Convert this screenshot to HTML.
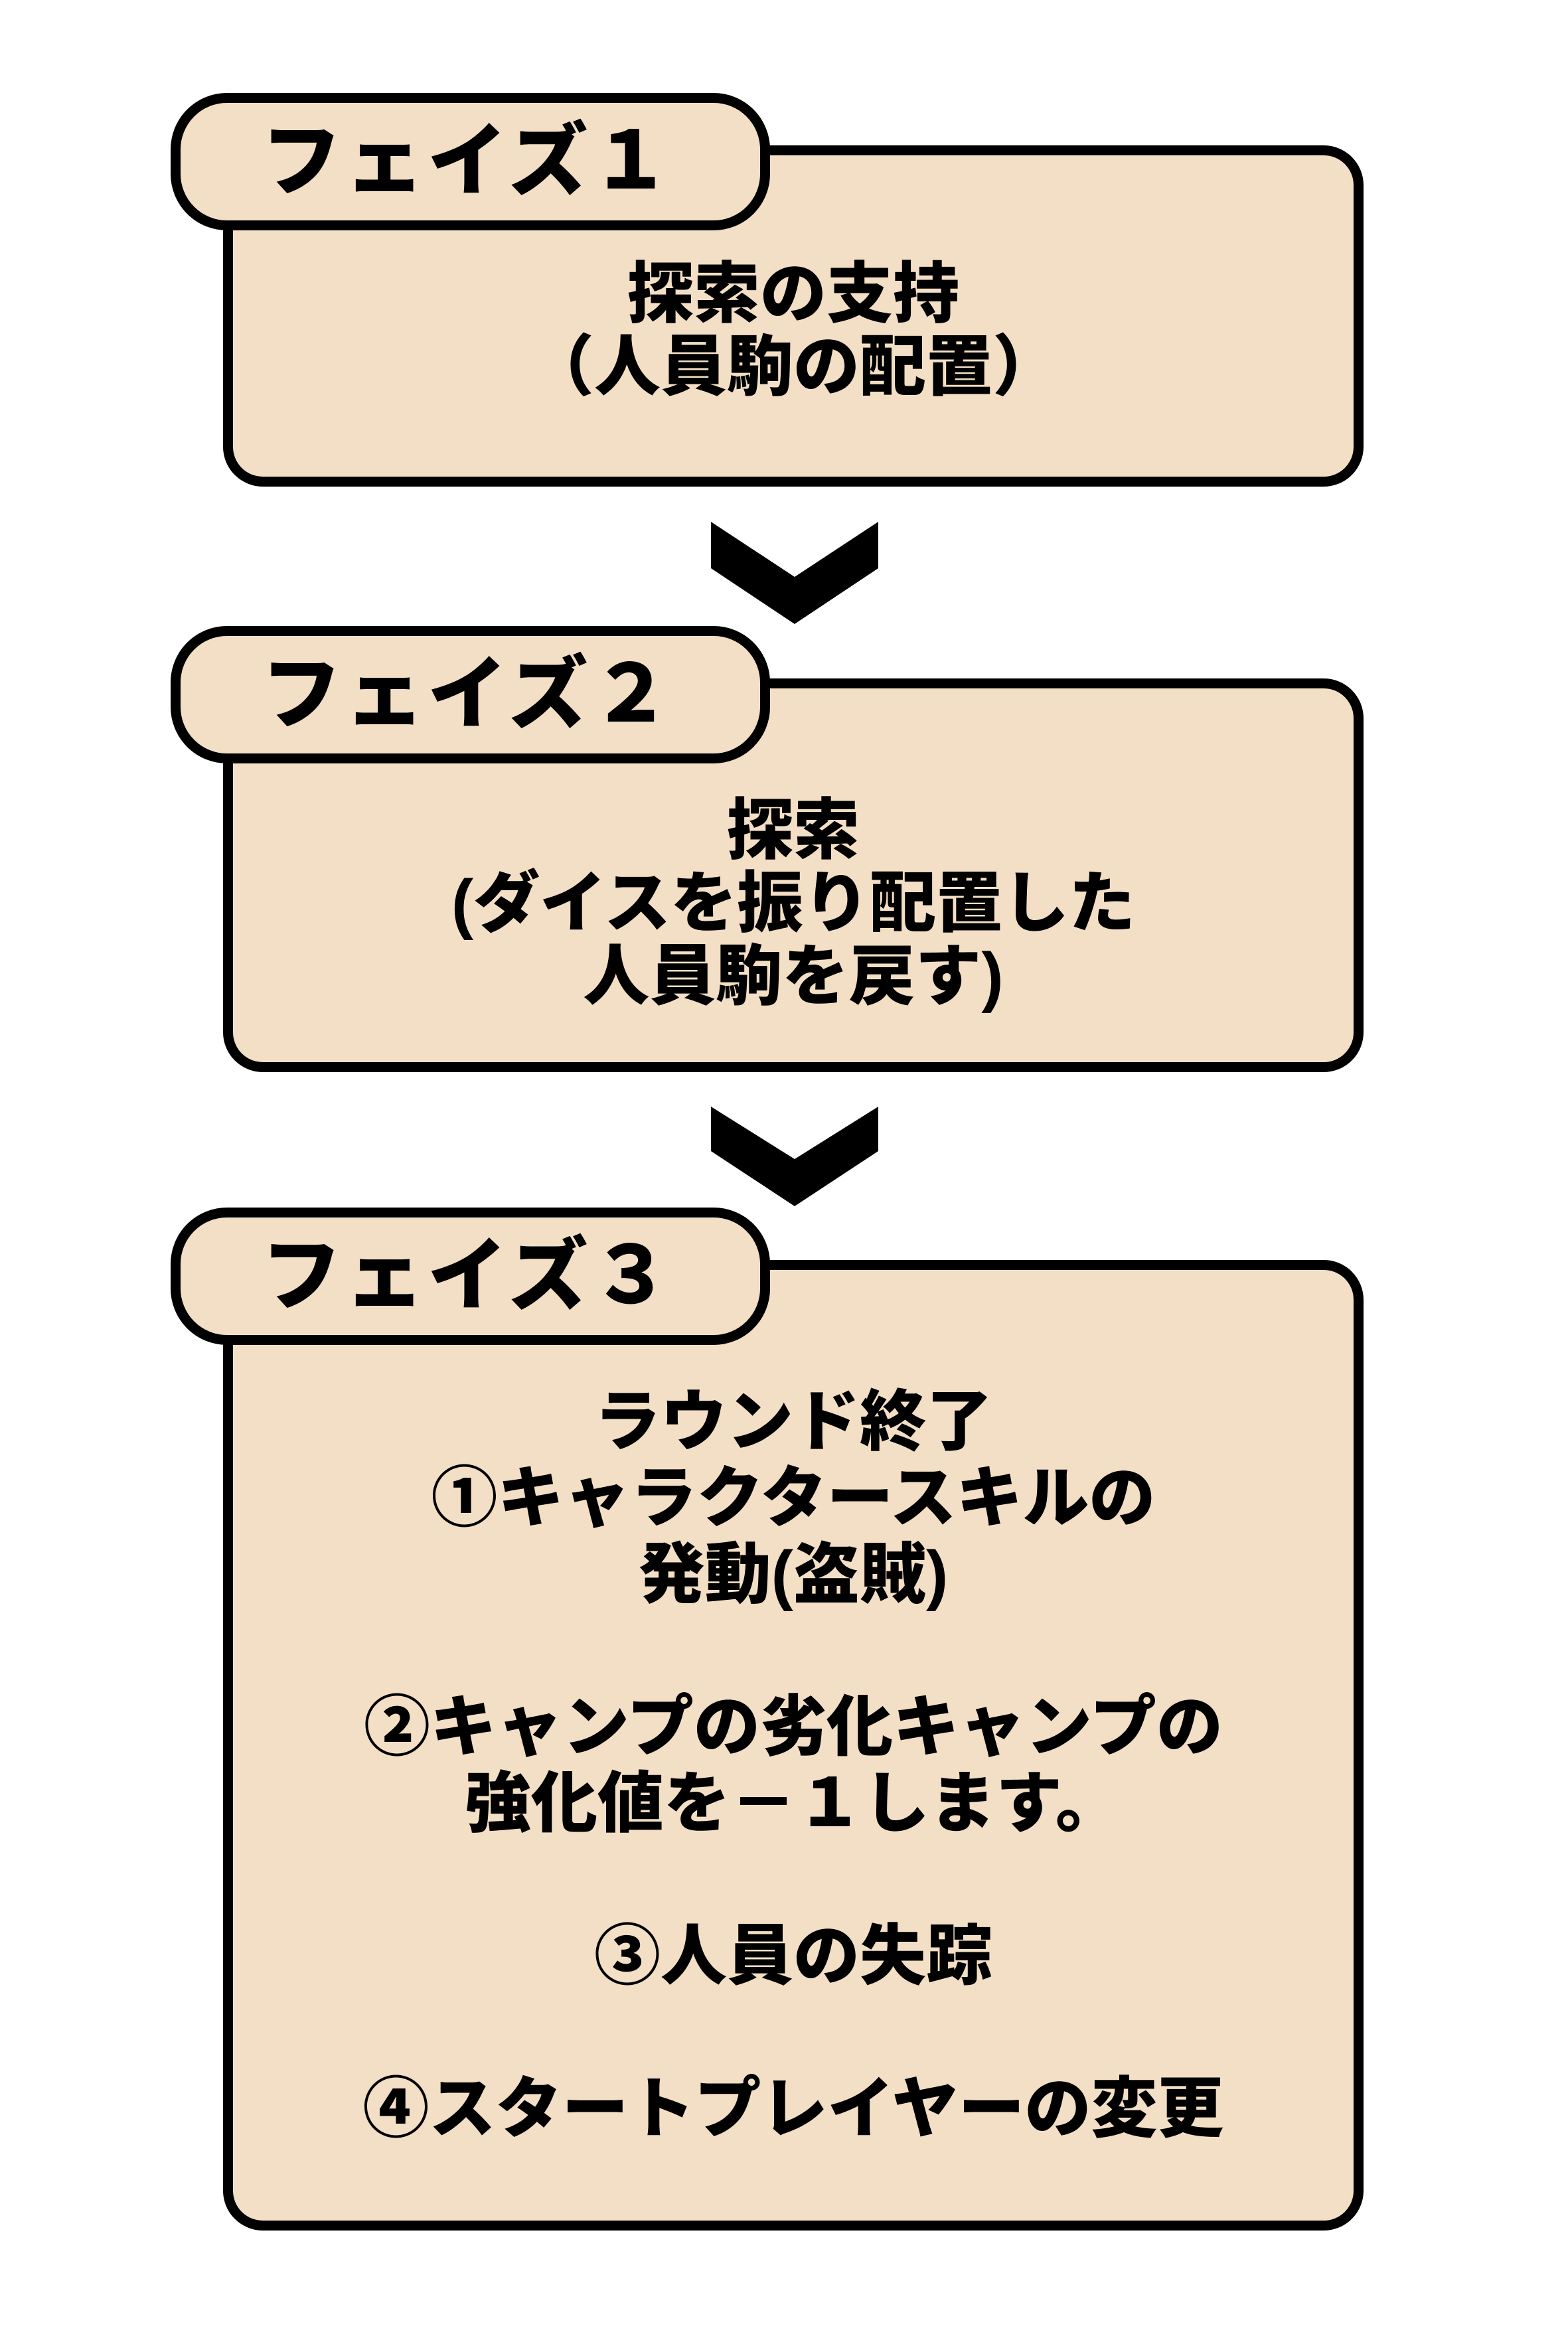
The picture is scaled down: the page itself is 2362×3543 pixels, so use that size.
<!DOCTYPE html>
<html><head><meta charset="utf-8"><style>
html,body{margin:0;padding:0;background:#fff;}
body{width:2362px;height:3543px;position:relative;overflow:hidden;font-family:"Liberation Sans","Noto Sans CJK JP",sans-serif;font-weight:900;color:#000;}
.box{position:absolute;left:336px;width:1718px;background:#f3dfc5;border:15px solid #000;border-radius:60px;box-sizing:border-box;}
.tab{position:absolute;left:257px;width:903px;height:207px;background:#f3dfc5;border:15px solid #000;border-radius:85px;box-sizing:border-box;}
.tab span{position:absolute;left:122px;top:0;line-height:177px;font-size:120px;letter-spacing:5px;white-space:nowrap;}
.txt{position:absolute;left:336px;width:1718px;text-align:center;font-size:100px;white-space:nowrap;}
svg{position:absolute;left:0;top:0;}
</style></head><body>
<div class="box" style="top:219px;height:514px;"></div>
<div class="tab" style="top:140px;"><span>フェイズ１</span></div>
<div class="txt" style="top:388px;line-height:110px;">探索の支持<br>（人員駒の配置）</div>

<div class="box" style="top:1022px;height:593px;"></div>
<div class="tab" style="top:943px;"><span>フェイズ２</span></div>
<div class="txt" style="top:1196px;line-height:110px;">探索<br>(ダイスを振り配置した<br>人員駒を戻す)</div>

<div class="box" style="top:1898px;height:1462px;"></div>
<div class="tab" style="top:1819px;"><span>フェイズ３</span></div>
<div class="txt" style="top:2085px;line-height:115px;">ラウンド終了<br>①キャラクタースキルの<br>発動(盗賊)<br><br>②キャンプの劣化キャンプの<br>強化値を－１します。<br><br>③人員の失踪<br><br>④スタートプレイヤーの変更</div>

<svg width="2362" height="3543">
<polygon points="1071,786 1197,869 1323,786 1323,856 1197,940 1071,856" fill="#000"/>
<polygon points="1071,1667 1197,1746 1323,1667 1323,1734 1197,1817 1071,1734" fill="#000"/>
</svg>
</body></html>
